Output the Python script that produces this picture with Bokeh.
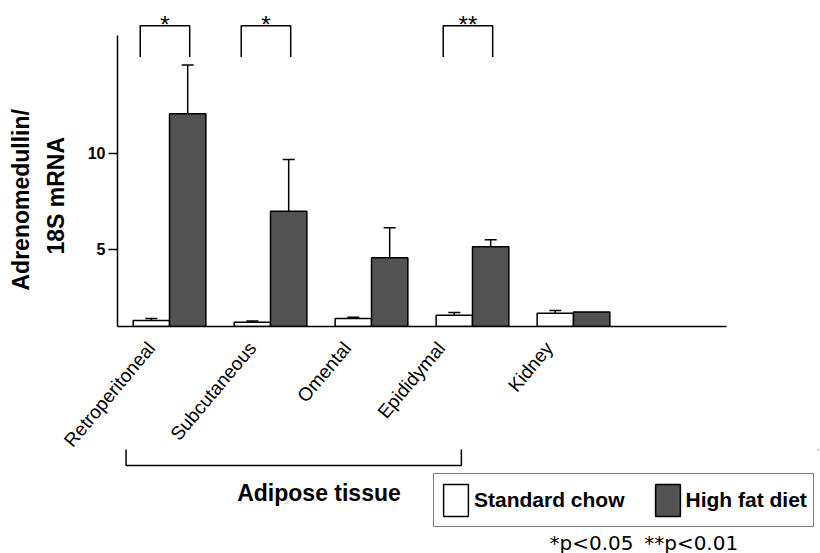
import math
from bokeh.plotting import figure
from bokeh.models import (Range1d, FixedTicker, Whisker, TeeHead, ColumnDataSource,
                          Legend, LegendItem, Title)
from bokeh.layouts import column
from bokeh.embed import file_html
from bokeh.resources import INLINE
from bokeh.core.properties import value

# ---------------- data ----------------
tissues = ["Retroperitoneal", "Subcutaneous", "Omental", "Epididymal", "Kidney"]
chow_mean = [1.31, 1.22, 1.41, 1.59, 1.69]
chow_upper = [1.41, 1.29, 1.48, 1.72, 1.83]     # mean + SE
hfd_mean = [12.04, 6.98, 4.57, 5.14, 1.75]
hfd_upper = [14.57, 9.67, 6.12, 5.50, 1.75]     # mean + SE
y_ticks = [5, 10]
sig_groups = [0, 1, 3]
sig_marks = ["*", "*", "**"]
adipose_groups = [0, 3]
series_names = ["Standard chow", "High fat diet"]
footnotes = ["*p<0.05", "**p<0.01"]
y_title = ["Adrenomedullin/", "18S mRNA"]
group_title = "Adipose tissue"

# ---------------- style ----------------
FONT = "Liberation Sans"
HFD_COLOR = "#525252"
BASE = 1.0
OFF = 0.18
BW = 0.36
LABEL_SHIFTS = [-0.18, -0.18, -0.24, -0.31, -0.24]   # label anchor offsets (style)
LW = 1.5
X_RANGE = (-0.515, 6.426)
TOP_H = 460
BOTTOM_BORDER = 133

groups = list(range(len(tissues)))

p = figure(width=820, height=TOP_H, x_range=Range1d(*X_RANGE),
           y_range=Range1d(BASE, 17.5), output_backend="svg", toolbar_location=None,
           min_border_left=117, min_border_right=2, min_border_top=8,
           min_border_bottom=BOTTOM_BORDER)
p.outline_line_color = None
p.grid.visible = False

src_c = ColumnDataSource(dict(x=[g - OFF for g in groups], top=chow_mean))
src_h = ColumnDataSource(dict(x=[g + OFF for g in groups], top=hfd_mean))

p.vbar(x="x", top="top", bottom=BASE, width=BW, source=src_c, fill_color="white",
       line_color="black", line_width=LW)
p.vbar(x="x", top="top", bottom=BASE, width=BW, source=src_h, fill_color=HFD_COLOR,
       line_color="black", line_width=LW)

for xs, means, ups in [([g - OFF for g in groups], chow_mean, chow_upper),
                       ([g + OFF for g in groups], hfd_mean, hfd_upper)]:
    keep = [i for i in range(len(xs)) if ups[i] > means[i]]
    ws = ColumnDataSource(dict(x=[xs[i] for i in keep], lo=[means[i] for i in keep],
                               hi=[ups[i] for i in keep]))
    p.add_layout(Whisker(base="x", lower="lo", upper="hi", source=ws, lower_head=None,
                         upper_head=TeeHead(size=12, line_width=LW, line_color="black"),
                         line_width=LW, line_color="black"))

# significance brackets
bx, by = [], []
for g in sig_groups:
    bx.append([g - 0.29, g - 0.29, g + 0.20, g + 0.20])
    by.append([14.98, 16.6, 16.6, 14.98])
p.multi_line(xs=bx, ys=by, line_color="black", line_width=LW)
p.text(x=[g - 0.045 for g in sig_groups], y=[17.38] * len(sig_groups), text=sig_marks,
       text_align="center", text_baseline="top", text_font=value(FONT),
       text_font_size="24px", text_color="black")

# y axis (ticks)
yax = p.yaxis[0]
yax.ticker = FixedTicker(ticks=y_ticks)
yax.bounds = (BASE, 16.1)
yax.axis_line_width = LW
yax.major_tick_line_width = LW
yax.major_tick_out = 9
yax.major_tick_in = 0
yax.minor_tick_line_color = None
yax.major_label_standoff = 3
yax.major_label_text_font = FONT
yax.major_label_text_font_style = "bold"
yax.major_label_text_font_size = "16px"
yax.major_label_text_color = "black"
yax.axis_label = "\u00a0"              # spacer between tick labels and the title
yax.axis_label_text_font_size = "1px"
yax.axis_label_standoff = 5

# y title: two side titles, one per line
for txt, off, so in [(y_title[1], 72, 14), (y_title[0], 36, 0)]:
    p.add_layout(Title(text=txt, align="left", offset=off, standoff=so, text_font=FONT,
                       text_font_style="bold", text_font_size="23px", text_color="black"),
                 "left")

# x axis
xax = p.xaxis[0]
tick_pos = [round(g + s, 3) for g, s in zip(groups, LABEL_SHIFTS)]
xax.ticker = FixedTicker(ticks=tick_pos)
xax.major_label_overrides = {t: n for t, n in zip(tick_pos, tissues)}
xax.bounds = (X_RANGE[0], 5.52)
xax.axis_line_width = LW
xax.major_tick_line_color = None
xax.minor_tick_line_color = None
xax.major_label_orientation = math.radians(50)
xax.major_label_standoff = 12
xax.major_label_text_font = FONT
xax.major_label_text_font_size = "19px"
xax.major_label_text_color = "black"

# ---------------- bottom panel ----------------
q = figure(width=820, height=104, x_range=Range1d(*X_RANGE), y_range=Range1d(553, 449),
           output_backend="svg", toolbar_location=None, x_axis_type=None, y_axis_type=None,
           min_border_left=117, min_border_right=2, min_border_top=0, min_border_bottom=0,
           margin=(449 - TOP_H, 0, 0, 0))
q.outline_line_color = None
q.grid.visible = False
q.background_fill_alpha = 0
q.border_fill_alpha = 0

a0, a1 = adipose_groups
q.multi_line(xs=[[a0 - 0.43, a0 - 0.43, a1 - 0.11, a1 - 0.11]], ys=[[448, 465, 465, 448]],
             line_color="black", line_width=LW)
q.text(x=[1.48], y=[492], text=[group_title], text_align="center",
       text_baseline="alphabetic", text_font=value(FONT), text_font_style="bold",
       text_font_size="23px", text_color="black")
q.text(x=[3.762, 4.70], y=[542, 542], text=footnotes, text_align="left",
       text_baseline="middle", text_font=value("DejaVu Sans"), text_font_size="20px",
       text_color="black")

r1 = q.vbar(x=[100], top=[1], bottom=[0], width=1, fill_color="white", line_color="black",
            line_width=LW)
r2 = q.vbar(x=[100], top=[1], bottom=[0], width=1, fill_color=HFD_COLOR, line_color="black",
            line_width=LW)
leg = Legend(items=[LegendItem(label=series_names[0], renderers=[r1]),
                    LegendItem(label=series_names[1], renderers=[r2])],
             orientation="horizontal", location=(316, 26), glyph_width=31, glyph_height=40,
             label_text_font=FONT, label_text_font_style="bold", label_text_font_size="21px",
             label_standoff=3, spacing=27, padding=6, margin=0, border_line_color="black",
             border_line_width=LW, background_fill_alpha=1.0, label_text_color="black")
q.add_layout(leg)

layout = column(p, q, spacing=0)
open("out.html", "w").write(file_html(layout, INLINE))
